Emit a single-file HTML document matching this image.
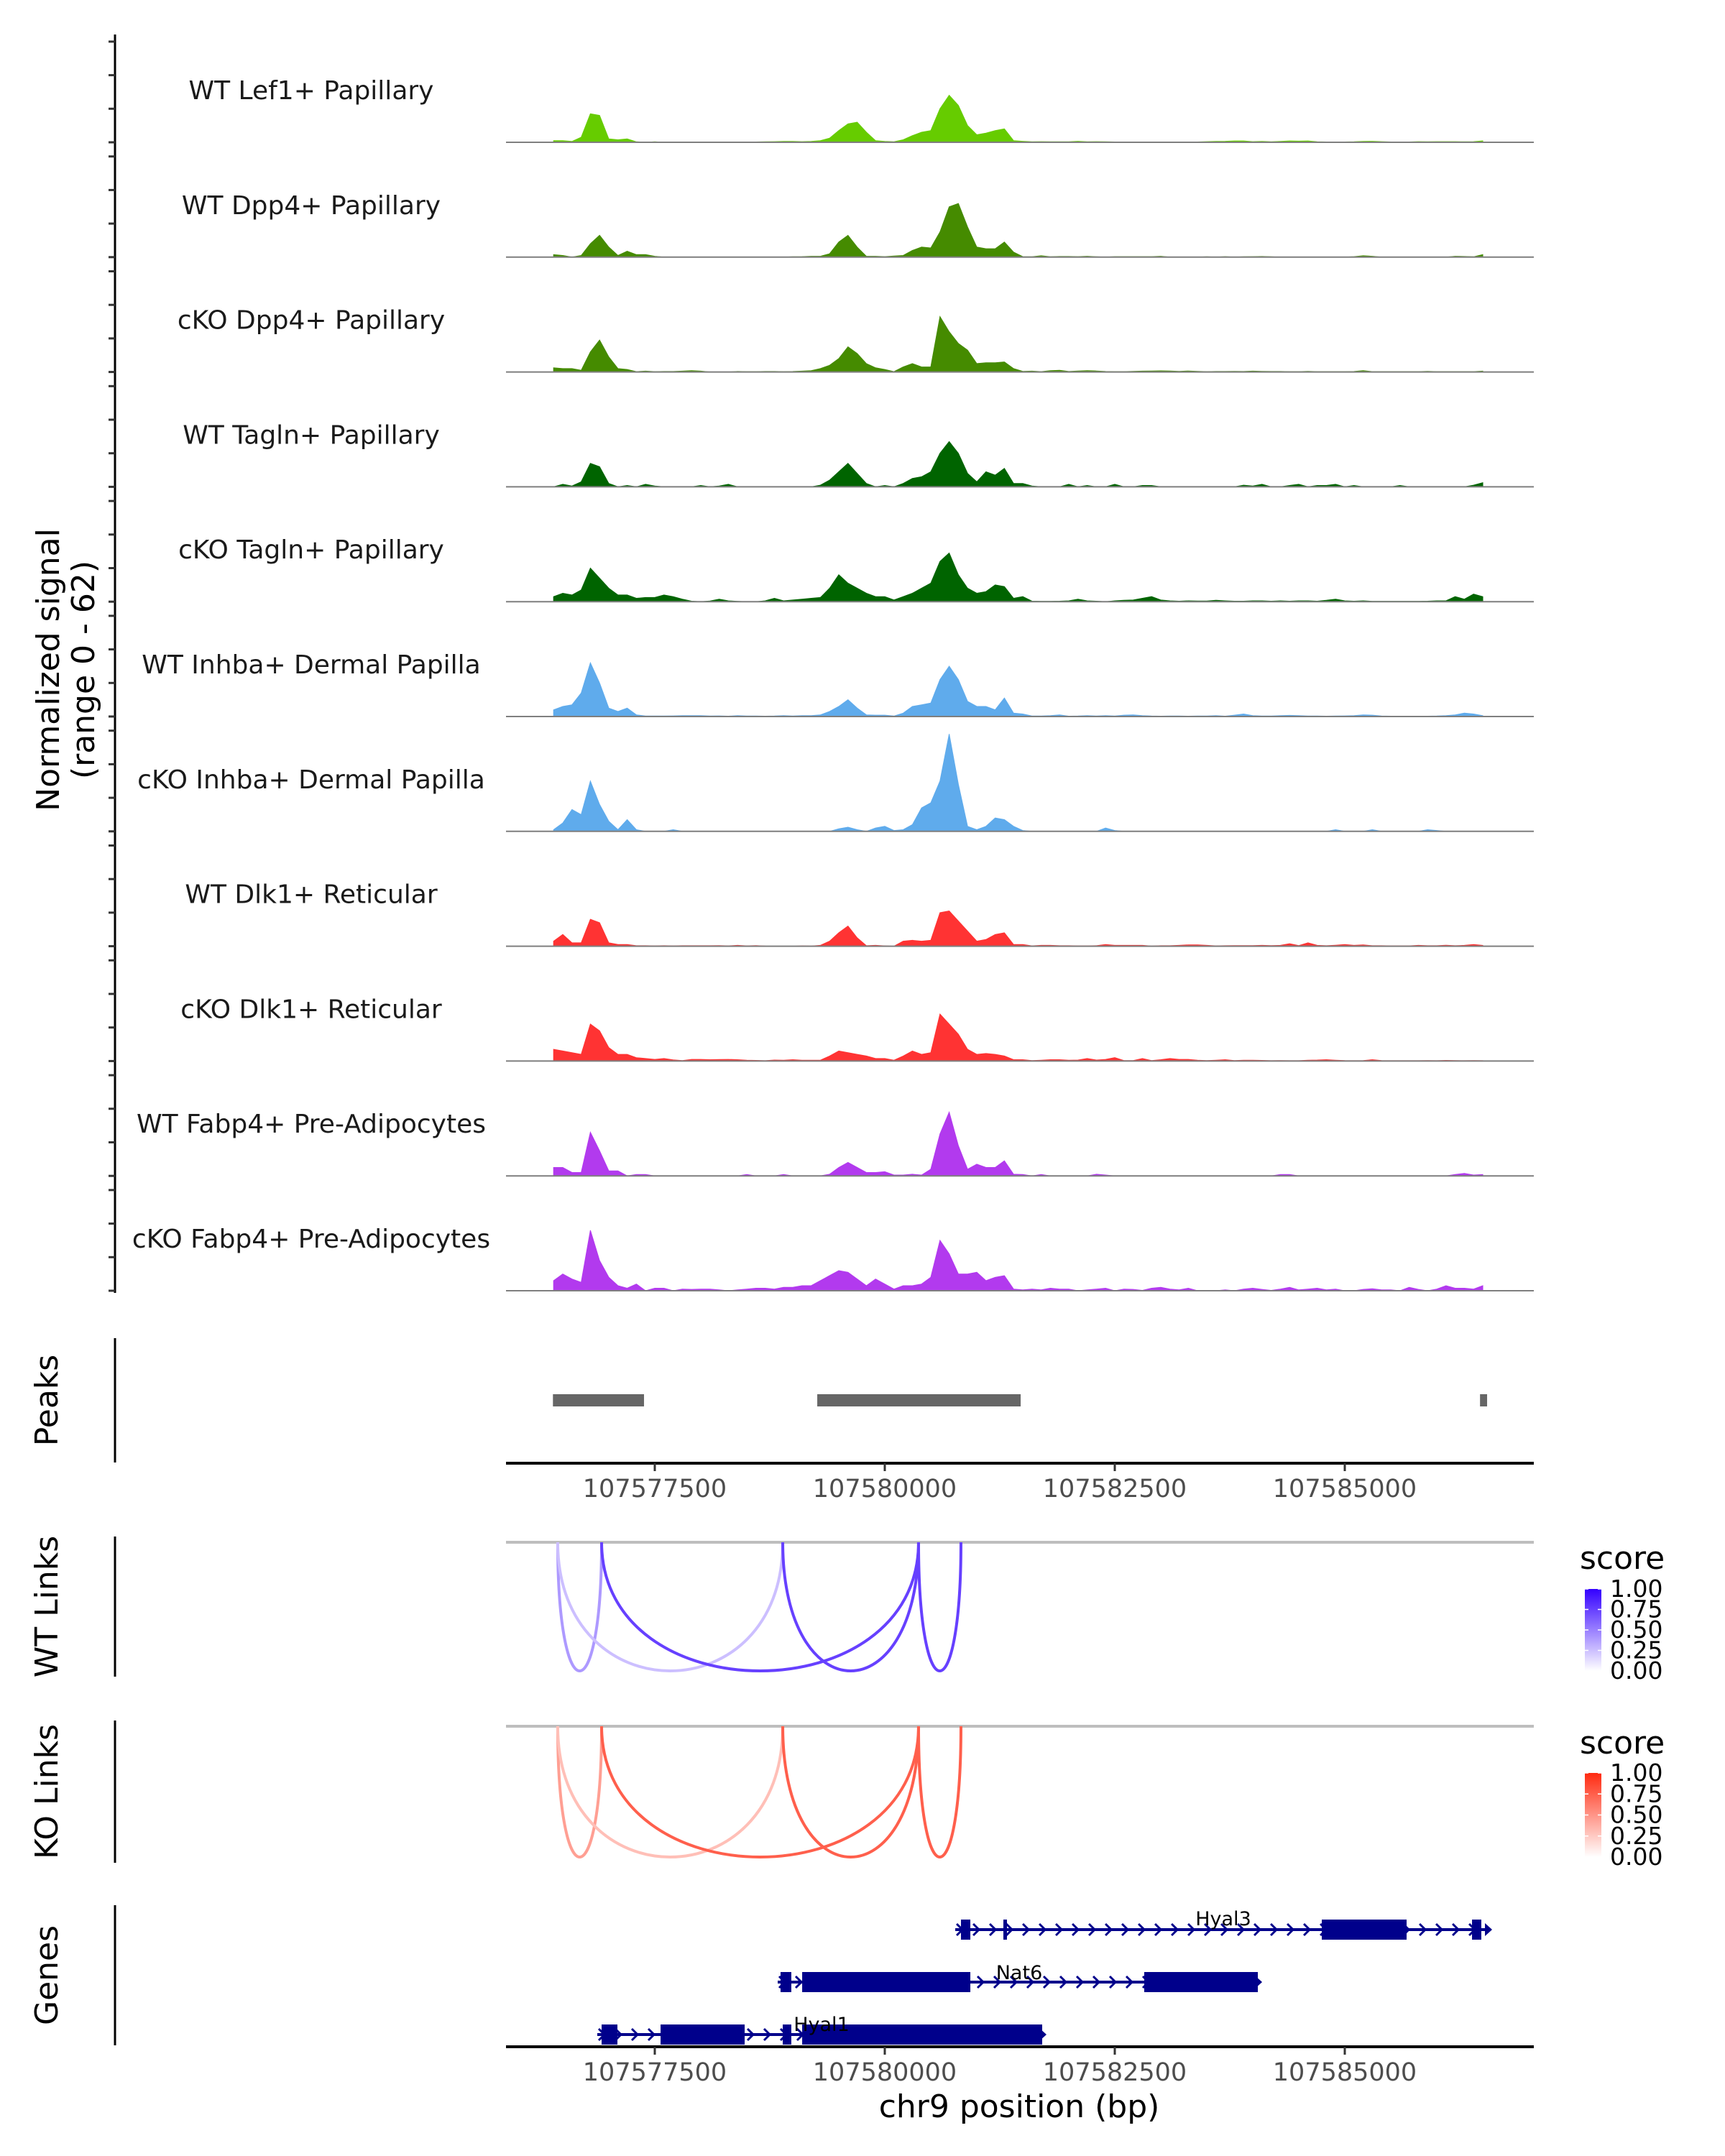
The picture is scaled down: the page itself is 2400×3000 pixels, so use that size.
<!DOCTYPE html>
<html><head><meta charset="utf-8"><title>Coverage plot chr9</title>
<style>
html,body{margin:0;padding:0;background:#fff;}
svg{display:block;font-family:"DejaVu Sans","Liberation Sans",sans-serif;}
</style></head>
<body>
<svg id="chart" xmlns="http://www.w3.org/2000/svg" width="2400" height="3000" viewBox="0 0 2400 3000"></svg>
<script>
// ---------- data ----------
const trackLabels = ["WT Lef1+ Papillary","WT Dpp4+ Papillary","cKO Dpp4+ Papillary","WT Tagln+ Papillary","cKO Tagln+ Papillary","WT Inhba+ Dermal Papilla","cKO Inhba+ Dermal Papilla","WT Dlk1+ Reticular","cKO Dlk1+ Reticular","WT Fabp4+ Pre-Adipocytes","cKO Fabp4+ Pre-Adipocytes"];
const binStart = 107576400;
const binSize = 100;
const sigWTLef1 = [1,1,0.5,3,17,16,2,1.5,2,0.3, 0,0.3,0,0.2,0.2,0.2,0.2,0.2,0.2,0.2, 0.2,0.2,0.2,0.3,0.4,0.5,0.5,0.4,0.5,1, 2.5,7,11,12,6,1,0.5,0.3,1.5,4, 6,7,20,28,22,10,4.5,5.5,7,8, 1,0.6,0.3,0.4,0.3,0.3,0.3,0.6,0.3,0.4, 0.3,0.2,0.2,0.2,0.2,0.2,0.2,0.2,0.2,0.2, 0.2,0.4,0.5,0.6,0.8,0.8,0.4,0.5,0.3,0.5, 0.8,0.7,0.8,0.3,0.2,0.2,0.2,0.3,0.5,0.6, 0.4,0.2,0.2,0.2,0.4,0.3,0.4,0.4,0.4,0.3, 0.4,0.8];
const sigWTDpp4 = [1.5,1,0,1,8,13,6,1,3.5,1.5, 1.5,0.5,0,0,0,0,0,0,0,0, 0,0,0,0,0,0,0.2,0.3,0.5,0.5, 2,9,13,6,0.5,0.5,0.3,0.7,1,4, 6,5.5,15,30,32,18,6,5,5,9, 3,0.3,0.2,0.8,0.2,0.4,0.4,0.3,0.5,0.2, 0,0.3,0.3,0.3,0.3,0.3,0.5,0,0,0, 0,0.2,0,0.3,0,0.2,0.3,0.4,0.2,0, 0,0,0,0,0,0,0,0.3,0.8,0.5, 0,0,0,0,0,0,0,0,0.5,0.4, 0.2,1.5];
const sigKODpp4 = [2.5,2,2,1,12,19,9,2,1.5,0.2, 0.5,0.2,0.3,0.3,0.5,0.8,0.5,0,0,0, 0.3,0.2,0.2,0.3,0.3,0.2,0.3,0.5,0.8,2, 4,8,15,11,5,2.5,1.5,0.2,3,5, 3,3,33,24,17,13,5,5.5,5.5,6, 2,0.4,0.5,0.2,0.8,1,0.3,0.6,0.8,0.6, 0.3,0.2,0.2,0.4,0.5,0.6,0.7,0.6,0.4,0.6, 0.4,0.2,0.3,0.3,0.4,0.3,0.5,0.4,0.3,0.3, 0.2,0.2,0.4,0.2,0.2,0.2,0.2,0.3,0.8,0.2, 0.2,0.2,0.2,0.2,0.2,0.4,0.2,0.2,0.2,0.2, 0.2,0.5];
const sigWTTagln = [0,1.5,0.5,3,14,12,2,0,0.8,0, 1.5,0.5,0,0,0,0,0.8,0,0.5,1.5, 0,0,0,0,0,0,0,0,0,1, 4,9,14,8,2,0,0.8,0,2,5, 6,9,20,27,20,8,3,9,7,11, 2,2,0.5,0,0,0,1.5,0,0.8,0, 0,1.5,0,0,0.8,0.8,0,0,0,0, 0,0,0,0,0,1,0.5,1.5,0,0, 0.8,1.5,0,0.8,0.8,1.5,0,0.8,0,0, 0,0,0.8,0,0,0,0,0,0,0, 1,2.5];
const sigKOTagln = [3,5,4,7,20,14,8,4,4,2, 2.5,2.5,4,3,1.5,0.3,0,0.4,1.5,0.5, 0.2,0,0,0.5,2,0.5,1,1.5,2,2.5, 8,16,11,8,5,3,3,1,3,5, 8,11,24,29,16,8,5,6,10,9, 2,3,0.3,0.2,0.2,0.3,0.5,1.5,0.5,0.3, 0,0.5,0.8,1,2,3,1,0.5,0.3,0.5, 0.4,0.4,0.8,0.5,0.3,0.3,0.5,0.5,0.3,0.5, 0.3,0.5,0.5,0.3,0.8,1.5,0.5,0.3,0.5,0.2, 0.2,0.2,0.2,0.2,0.2,0.3,0.5,0.5,3,1.5, 4.5,3];
const sigWTInhba = [4,6,7,14,32,20,5,3,5,1, 0.3,0.3,0.3,0.4,0.5,0.5,0.5,0.3,0.4,0.2, 0.5,0.3,0.3,0.2,0.3,0.5,0.3,0.5,0.5,1, 3,6,10,5,1,0.8,0.8,0.3,2,6, 7,8,22,30,22,9,6,6,4,11, 2,1.5,0.3,0.3,0.5,1,0.2,0.3,0.5,0.3, 0.5,0.3,0.8,1,0.5,0.3,0.2,0.3,0.3,0.2, 0.3,0.3,0.5,0.2,0.8,1.5,0.5,0.3,0.3,0.5, 0.7,0.5,0.3,0.3,0.2,0.3,0.4,0.5,1,0.8, 0.3,0.2,0.2,0.2,0.2,0.2,0.3,0.5,1,2, 1.5,0.5];
const sigKOInhba = [1,5,13,10,30,16,6,1,7,1, 0,0,0,1,0,0,0,0,0,0, 0,0,0,0,0,0,0,0,0,0, 0,1.5,2.5,1,0,2,3,0.5,1,4, 14,17,30,58,28,3,1,3,8,7, 3,0.5,0,0,0,0,0,0,0,0, 2,0.5,0,0,0,0,0,0,0,0, 0,0,0,0,0,0,0,0,0,0, 0,0,0,0,0,1,0,0,0,1, 0,0,0,0,0,1,0.5,0,0,0, 0,0];
const sigWTDlk1 = [3,7,2,2,16,14,2,1,1,0.3, 0.3,0.2,0.3,0.2,0.3,0.3,0.3,0.3,0.4,0.2, 0.5,0.2,0.4,0.1,0,0,0,0.2,0.1,0.5, 3,8,12,5,0.3,0.5,0.2,0,3,3.5, 3,3.5,20,21,15,9,3,4,7,8, 1,1,0.2,0.5,0.5,0.3,0.3,0.2,0.2,0.3, 1,0.5,0.5,0.5,0.5,0.1,0.3,0.3,0.5,0.8, 0.8,0.5,0.2,0.3,0.4,0.4,0.4,0.5,0.4,0.5, 1.5,0.4,2,0.5,0.3,0.6,1,0.5,0.8,0.3, 0.3,0.2,0.2,0.2,0.5,0.3,0.3,0.6,0.3,0.5, 1,0.5];
const sigKODlk1 = [7,6,5,4,22,18,8,4,4,2, 1.5,1,1.5,0.7,0.3,1,1,0.8,0.9,1, 0.8,0.5,0.4,0.2,0.6,0.5,0.8,0.5,0.5,0.5, 3,6,5,4,3,1.5,1.5,0.5,3,6, 4,5,28,22,16,7,4,4.5,4,3, 0.8,0.8,0.3,0.5,0.8,0.8,0.5,0.6,1.5,0.6, 1,2,0.3,0.3,1.5,0.3,0.8,1.5,1,1, 0.5,0.3,0.5,0.8,0.3,0.5,0.5,0.4,0.2,0.3, 0.2,0.2,0.5,0.6,0.8,0.5,0.3,0.2,0.3,0.8, 0.3,0.2,0.2,0.2,0.2,0.3,0.2,0.4,0.3,0.2, 0.3,0.2];
const sigWTFabp4 = [5,5,2,2,26,15,3,3,0,0.8, 0.8,0,0,0,0,0,0,0,0,0, 0,0.8,0,0,0,0.8,0,0,0,0, 1,5,8,5,2,2,2.5,0.5,0.5,1, 0.5,4,25,38,18,4,7,5,5,9, 1,0.8,0,0.8,0,0,0,0,0,1, 0.5,0,0,0,0,0,0,0,0,0, 0,0,0,0,0,0,0,0,0,0.8, 0.8,0,0,0,0,0,0,0,0,0, 0,0,0,0,0,0,0,0,0.8,1.5, 0.5,0.8];
const sigKOFabp4 = [6,10,7,5,36,18,8,3,1.5,4, 0,1.5,1.5,0,1,0.8,1,1,0.5,0, 0.5,1,1.5,1.5,1,2,2,3,3,6, 9,12,11,7,3,7,4,1,3,3, 4,8,30,22,10,10,11,6,8,9, 1,0.5,1,0.5,1.5,1,1,0,0.5,1, 1.5,0,1,0.8,0.2,1.5,2,1,0.5,1.5, 0,0,0,0.5,0,1,1.5,0.8,0.2,1, 2,0.5,1,1.5,0.5,1,0,0,0.8,1.2, 0.5,0.5,0,2,0.8,0,1,3,1.5,1.5, 1,3];
const signalSeries = [sigWTLef1,sigWTDpp4,sigKODpp4,sigWTTagln,sigKOTagln,sigWTInhba,sigKOInhba,sigWTDlk1,sigKODlk1,sigWTFabp4,sigKOFabp4];
const yTicks = [0,20,40,60];
const xTicks = [107577500,107580000,107582500,107585000];
const peakStarts = [107576393,107579266,107586470];
const peakEnds = [107577383,107581477,107586547];
const wtLinkStarts = [107576445,107576445,107576922,107578891,107580367];
const wtLinkEnds = [107576922,107578891,107580367,107580367,107580828];
const wtLinkScores = [0.4,0.25,0.75,0.75,0.75];
const koLinkStarts = [107576445,107576445,107576922,107578891,107580367];
const koLinkEnds = [107576922,107578891,107580367,107580367,107580828];
const koLinkScores = [0.45,0.3,0.75,0.75,0.75];
const legendTicks = [1.00,0.75,0.50,0.25,0.00];
const geneNames = ["Hyal3","Nat6","Hyal1"];
const geneStarts = [107580766,107578836,107576875];
const geneEnds = [107586555,107584055,107581711];
const geneExonStarts = [[107580828,107581289,107584750,107586383],[107578867,107579102,107582820],[107576922,107577563,107578891,107579102]];
const geneExonEnds = [[107580930,107581328,107585672,107586484],[107578984,107580930,107584055],[107577094,107578477,107578984,107581711]];

// ---------- layout ----------
const NS = "http://www.w3.org/2000/svg";
const svg = document.getElementById("chart");
const trackColors = ["#66cc00","#458b00","#458b00","#006400","#006400","#5fabec","#5fabec","#ff3333","#ff3333","#b23aee","#b23aee"];
const plotL = 704, plotR = 2134;
function xScale(bp){ return 911 + (bp - 107577500) * 0.128; }
function trackBase(i){ return 198 + i * 159.8; }
function yScale(i, v){ return trackBase(i) - v * 2.335; }
function mk(tag, attrs, parent){
  const e = document.createElementNS(NS, tag);
  for (const k in attrs) e.setAttribute(k, attrs[k]);
  (parent || svg).appendChild(e);
  return e;
}
function txt(str, attrs, parent){ const t = mk("text", attrs, parent); t.textContent = str; return t; }
function mixColor(hi, s){
  const r = Math.round(255 + (hi[0]-255)*s), g = Math.round(255 + (hi[1]-255)*s), b = Math.round(255 + (hi[2]-255)*s);
  return "rgb(" + r + "," + g + "," + b + ")";
}

// ---------- coverage tracks ----------
const covAxis = mk("line",{x1:160,y1:48,x2:160,y2:1799,stroke:"#000","stroke-width":3});


signalSeries.forEach(function(vals, ti){
  const g = mk("g",{});
  
  
  let d = "M" + xScale(binStart).toFixed(1) + "," + trackBase(ti).toFixed(1);
  vals.forEach(function(v, k){
    d += " L" + xScale(binStart + k*binSize).toFixed(1) + "," + yScale(ti, v).toFixed(1);
  });
  d += " L" + xScale(binStart + (vals.length-1)*binSize).toFixed(1) + "," + trackBase(ti).toFixed(1) + " Z";
  const area = mk("path",{d:d,fill:trackColors[ti],stroke:trackColors[ti],"stroke-width":1}, g);
  
  
  const bl = mk("line",{x1:plotL,y1:trackBase(ti),x2:plotR,y2:trackBase(ti),stroke:"#7f7f7f","stroke-width":2}, g);
  
  
  const lab = txt(trackLabels[ti],{x:433,y:trackBase(ti)-60,"text-anchor":"middle","font-size":36,fill:"#1a1a1a"}, g);
  
  
  yTicks.forEach(function(tv){
    const tk = mk("line",{x1:151,y1:yScale(ti,tv),x2:160,y2:yScale(ti,tv),stroke:"#333","stroke-width":3}, g);
    
    
  });
});
const yt1 = txt("Normalized signal",{x:0,y:0,"text-anchor":"middle","font-size":44,fill:"#000",transform:"translate(82,932) rotate(-90)"});


const yt2 = txt("(range 0 - 62)",{x:0,y:0,"text-anchor":"middle","font-size":44,fill:"#000",transform:"translate(131,932) rotate(-90)"});



// ---------- panel titles & axis lines ----------
function panelAxis(name, y1, y2, title){
  const l = mk("line",{x1:160,y1:y1,x2:160,y2:y2,stroke:"#000","stroke-width":3});
  
  
  const t = txt(title,{x:0,y:0,"text-anchor":"middle","font-size":44,fill:"#000",transform:"translate(80," + ((y1+y2)/2) + ") rotate(-90)"});
  
  
}
panelAxis("peaks", 1862, 2035, "Peaks");
panelAxis("wt-links", 2138, 2333, "WT Links");
panelAxis("ko-links", 2394, 2592, "KO Links");
panelAxis("genes", 2651, 2846, "Genes");

// ---------- peaks ----------
peakStarts.forEach(function(s, k){
  const r = mk("rect",{x:xScale(s),y:1940,width:Math.max(xScale(peakEnds[k])-xScale(s),8),height:17,fill:"#666666"});
  
  
});
function xAxis(y, name){
  const l = mk("line",{x1:plotL,y1:y,x2:plotR,y2:y,stroke:"#000","stroke-width":4});
  
  
  xTicks.forEach(function(t){
    const tk = mk("line",{x1:xScale(t),y1:y,x2:xScale(t),y2:y+11,stroke:"#333","stroke-width":3});
    
    
    const tl = txt(String(t),{x:xScale(t),y:y+47,"text-anchor":"middle","font-size":35,fill:"#4d4d4d"});
    
    
  });
}
xAxis(2036, "peaks-x-axis");

// ---------- links ----------
function drawLinks(starts, ends, scores, topY, depth, hi, name){
  const base = mk("line",{x1:plotL,y1:topY,x2:plotR,y2:topY,stroke:"#bebebe","stroke-width":4});
  
  
  starts.forEach(function(s, k){
    const x1 = xScale(s), x2 = xScale(ends[k]), cy = topY + depth*4/3;
    const p = mk("path",{d:"M"+x1+","+topY+" C"+x1+","+cy+" "+x2+","+cy+" "+x2+","+topY,fill:"none",stroke:mixColor(hi, scores[k]),"stroke-width":4});
    
    
  });
}
drawLinks(wtLinkStarts, wtLinkEnds, wtLinkScores, 2146, 179, [51,0,255], "wt-link");
drawLinks(koLinkStarts, koLinkEnds, koLinkScores, 2402, 182, [255,42,16], "ko-link");

// ---------- legends ----------
function legend(titleY, barTop, barBot, hi, name){
  const defs = mk("defs",{});
  const grad = mk("linearGradient",{id:name+"-grad",x1:0,y1:1,x2:0,y2:0}, defs);
  mk("stop",{offset:"0","stop-color":"#ffffff"}, grad);
  mk("stop",{offset:"1","stop-color":mixColor(hi,1)}, grad);
  const t = txt("score",{x:2198,y:titleY,"font-size":44,fill:"#000"});
  
  
  const bar = mk("rect",{x:2205,y:barTop,width:23,height:barBot-barTop,fill:"url(#"+name+"-grad)"});
  
  
  legendTicks.forEach(function(v){
    const y = barBot - v*(barBot-barTop);
    mk("line",{x1:2205,y1:y,x2:2210,y2:y,stroke:"#fff","stroke-width":1.5});
    mk("line",{x1:2223,y1:y,x2:2228,y2:y,stroke:"#fff","stroke-width":1.5});
    const l = txt(v.toFixed(2),{x:2240,y:y+11,"font-size":33,fill:"#000"});
    
    
  });
}
legend(2183, 2211, 2325, [51,0,255], "wt-legend");
legend(2440, 2467, 2584, [255,42,16], "ko-legend");

// ---------- genes ----------
const geneRowY = [2685, 2758, 2831];
const geneLabelPos = [[1702,2679],[1418,2754],[1143,2826]];
geneNames.forEach(function(n, gi){
  const g = mk("g",{});
  
  
  const y = geneRowY[gi];
  const xa = xScale(geneStarts[gi]), xb = xScale(geneEnds[gi]);
  mk("line",{x1:xa,y1:y,x2:xb,y2:y,stroke:"#00008b","stroke-width":4}, g);
  for (let cx = xa + 6; cx < xb - 4; cx += 23){
    mk("path",{d:"M"+(cx-4)+","+(y-8)+" L"+(cx+4)+","+y+" L"+(cx-4)+","+(y+8),fill:"none",stroke:"#00008b","stroke-width":3}, g);
  }
  mk("path",{d:"M"+(xb-4)+","+(y-9)+" L"+(xb+6)+","+y+" L"+(xb-4)+","+(y+9)+" Z",fill:"#00008b"}, g);
  geneExonStarts[gi].forEach(function(s, k){
    const ex = mk("rect",{x:xScale(s),y:y-14,width:Math.max(xScale(geneExonEnds[gi][k])-xScale(s),5),height:28,fill:"#00008b"}, g);
    
    
  });
  const lab = txt(n,{x:geneLabelPos[gi][0],y:geneLabelPos[gi][1],"text-anchor":"middle","font-size":27,fill:"#000"}, g);
  
  
});
xAxis(2848, "genes-x-axis");
const xt = txt("chr9 position (bp)",{x:1418,y:2946,"text-anchor":"middle","font-size":44,fill:"#000"});


</script>
</body></html>
